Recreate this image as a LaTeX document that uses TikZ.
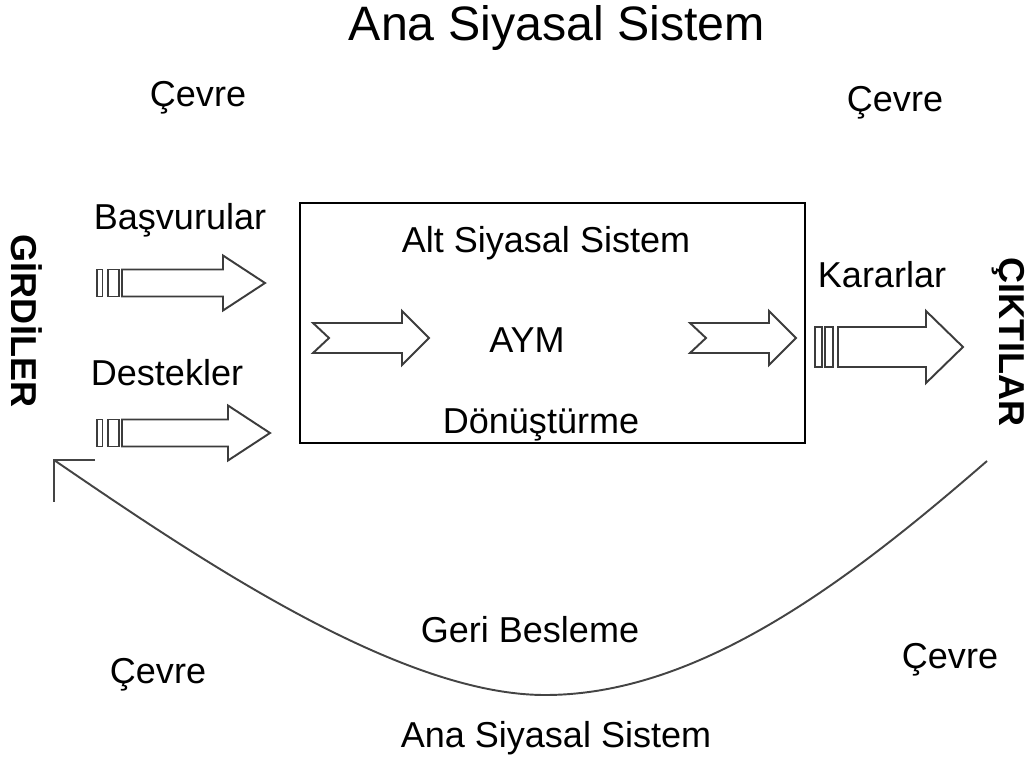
\documentclass[tikz,border=0pt]{standalone}
\usepackage{fontspec}
\setmainfont{Liberation Sans}
\usetikzlibrary{positioning}
\definecolor{arrowink}{HTML}{3C3C3C}
\definecolor{curveink}{HTML}{444444}
\newcommand{\lblfont}{\fontsize{20.5}{24}\selectfont}
\newcommand{\sidefont}{\bfseries\fontsize{20.5}{24}\selectfont}
\tikzset{
  lbl/.style={font=\lblfont, inner sep=0pt},
  blockarrow/.style={draw=arrowink, line width=1.1pt, fill=white, line join=miter},
  feedback/.style={draw=curveink, line width=1.1pt}
}

\begin{document}
\begin{tikzpicture}[x=0.2mm, y=-0.2mm]
  \useasboundingbox (0,0) rectangle (1030,760);
  % titles
  \node[font=\fontsize{27.5}{32}\selectfont, inner sep=0pt] (title) at (557,28) {Ana Siyasal Sistem};
  \node[lbl] (bottomtitle) at (556,738) {Ana Siyasal Sistem};
  % environment
  \node[lbl] (cevretl) at (198,98) {Çevre};
  \node[lbl] (cevretr) at (895,103) {Çevre};
  \node[lbl] (cevrebl) at (158,675) {Çevre};
  \node[lbl] (cevrebr) at (950,660) {Çevre};
  % sides
  \node[font=\sidefont, rotate=-90, inner sep=0pt] (girdiler) at (27,321) {GİRDİLER};
  \node[font=\sidefont, rotate=-90, inner sep=0pt] (ciktilar) at (1008,342) {ÇIKTILAR};
  % sub system
  \node[draw, line width=1pt, minimum width=101mm, minimum height=48mm] (altsistem) at (552.5,323) {};
  \node[lbl] (altbaslik) at (546,243) {Alt Siyasal Sistem};
  \node[lbl] (aym) at (527,340) {AYM};
  \node[lbl] (donusturme) at (541,425) {Dönüştürme};
  % inputs
  \node[lbl] (basvurular) at (180,220) {Başvurular};
  \node[lbl] (destekler) at (167,373) {Destekler};
  \foreach \yy/\tx in {283/265, 433/270} {
    \draw[blockarrow] (97,\yy-13.5) rectangle (102.5,\yy+13.5);
    \draw[blockarrow] (108,\yy-13.5) rectangle (119,\yy+13.5);
    \draw[blockarrow] (122,\yy-13.5) -- (\tx-42,\yy-13.5) -- (\tx-42,\yy-27.5) -- (\tx,\yy)
      -- (\tx-42,\yy+27.5) -- (\tx-42,\yy+13.5) -- (122,\yy+13.5) -- cycle;
  }
  % transformation
  \foreach \xx/\len in {313/89, 690/79} {
    \draw[blockarrow] (\xx,323) -- (\xx+\len,323) -- (\xx+\len,311) -- (\xx+\len+27,338)
      -- (\xx+\len,365) -- (\xx+\len,353) -- (\xx,353) -- (\xx+16,338) -- cycle;
  }
  % outputs
  \node[lbl] (kararlar) at (882,275) {Kararlar};
  \draw[blockarrow] (815,327) rectangle (822,367);
  \draw[blockarrow] (825,327) rectangle (833,367);
  \draw[blockarrow] (838,327) -- (926,327) -- (926,311) -- (963,347) -- (926,383)
    -- (926,367) -- (838,367) -- cycle;
  % feedback
  \node[lbl] (geribesleme) at (530,630) {Geri Besleme};
  \coordinate (fbstart) at (987,461);
  \coordinate (fblow) at (545,695);
  \coordinate (fbend) at (54,460);
  \draw[feedback] (fbstart) .. controls (850,580) and (700,695) .. (fblow)
    .. controls (400,695) and (200,560) .. (fbend);
  \draw[feedback] (fbend) ++(41,0) -- (fbend) -- ++(0,42);
\end{tikzpicture}
\end{document}
